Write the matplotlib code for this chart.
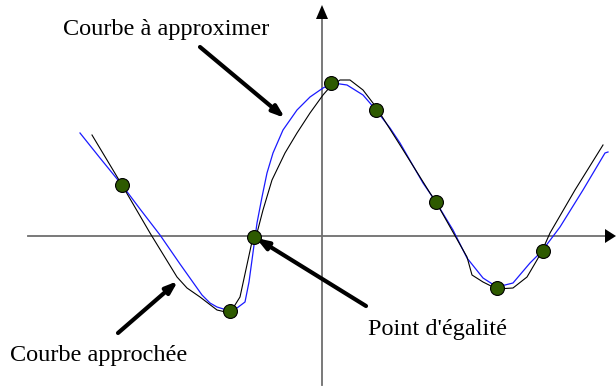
import matplotlib

matplotlib.use("Agg")
import matplotlib.pyplot as plt
import numpy as np

# Coordinates are in a unit frame centred on the axes crossing (y up).
# Curve to approximate (blue, smooth)
blue_x = np.array([80, 100, 122, 140, 160, 180, 202, 210, 217, 230, 237, 245, 249, 252, 257,
                   262, 267, 273, 283, 297, 310, 323, 333, 347, 363, 376, 390, 400, 423,
                   436, 453, 467, 483, 497, 513, 530, 542, 560, 583, 605, 608]) - 322
blue_y = 236 - np.array([133, 158, 185, 209, 235, 264, 295, 303, 307, 311, 308, 302, 282, 260, 223,
                         197, 173, 153, 130, 110, 97, 88, 83, 85, 95, 110, 128, 143, 183,
                         202, 230, 258, 278, 287, 283, 263, 251, 227, 190, 153, 152])

# Approximated curve (black, piecewise)
black_x = np.array([92, 122, 150, 177, 187, 200, 217, 230, 240, 253, 257, 263, 272, 285,
                    297, 310, 323, 330, 340, 350, 363, 376, 400, 430, 436, 467, 472, 483,
                    497, 513, 527, 537, 542, 550, 575, 603]) - 322
black_y = 236 - np.array([135, 185, 233, 277, 288, 297, 310, 313, 297, 237, 233, 210, 180, 153,
                          133, 113, 95, 87, 80, 80, 90, 107, 145, 193, 202, 257, 275, 282,
                          289, 288, 277, 260, 251, 233, 190, 145])

# Equality points
pts_x = np.array([122, 254, 230, 331, 376, 436, 497, 543]) - 322
pts_y = 236 - np.array([185, 237, 311, 83, 110, 202, 288, 251])

plt.rcParams["font.family"] = ["Liberation Serif", "DejaVu Serif"]

fig = plt.figure(figsize=(6.16, 3.88), dpi=100)
ax = fig.add_axes([0, 0, 1, 1])
ax.set_xlim(-322, 294)
ax.set_ylim(-152, 236)
ax.axis("off")

# axes with arrowheads
ax.plot([-294, 284], [0, 0], color="#6e6e6e", lw=1.3, zorder=1)
ax.plot([0, 0], [-149, 218], color="#6e6e6e", lw=1.3, zorder=1)
ax.fill([283, 294, 283], [-7, 0, 7], color="black", lw=0, zorder=2)
ax.fill([-6, 0, 6], [217, 231, 217], color="black", lw=0, zorder=2)

ax.plot(blue_x, blue_y, color="#1a1aff", lw=0.9, zorder=3)
ax.plot(black_x, black_y, color="black", lw=0.8, zorder=3)
ax.plot(pts_x, pts_y, "o", ms=10, mfc="#2e5a00", mec="black", mew=0.8, zorder=5)

arrow = dict(arrowstyle="-|>,head_width=0.25,head_length=0.7", color="black", lw=3,
             shrinkA=0, shrinkB=0)
ax.text(-156, 206, "Courbe à approximer", fontsize=17.5, ha="center", va="center")
ax.annotate("", xy=(-37, 118), xytext=(-122, 189), arrowprops=arrow)

ax.text(-223, -119, "Courbe approchée", fontsize=17.5, ha="center", va="center")
ax.annotate("", xy=(-144, -45), xytext=(-204, -97), arrowprops=arrow)

ax.text(115, -94, "Point d'égalité", fontsize=17.5, ha="center", va="center")
ax.annotate("", xy=(-66, -2), xytext=(44, -70), arrowprops=arrow)

fig.savefig("out.png", dpi=100)
